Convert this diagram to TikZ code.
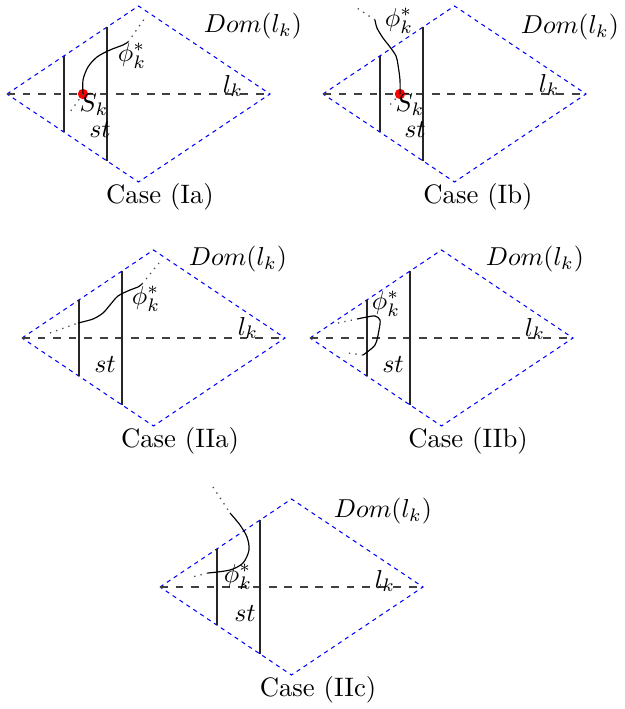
\documentclass[tikz,border=0pt]{standalone}
\usetikzlibrary{positioning}
\definecolor{DomBlue}{HTML}{0000FF}
\definecolor{SkRed}{HTML}{FF0000}

\tikzset{
  every node/.style={font=\fontsize{10.3}{12.5}\selectfont,inner sep=0.5pt},
  domline/.style={DomBlue,dash pattern=on 1.6pt off 1.6pt,line width=0.4pt},
  lkline/.style={black!75,dashed,line width=0.4pt},
  stline/.style={black!85,line width=0.4pt},
  phipath/.style={black,line width=0.45pt},
  phiext/.style={black!70,dotted,line width=0.5pt},
  skdot/.style={circle,fill=SkRed,inner sep=0pt,minimum size=4pt},
  pics/region/.style={code={
    \coordinate (-w) at (0,0);
    \coordinate (-e) at (263,0);
    \coordinate (-n) at (131.5,-88);
    \coordinate (-s) at (131.5,88);
    \draw[domline] (-w) -- (-n) -- (-e) -- (-s) -- cycle;
    \draw[lkline] (-w) -- (-e);
    \draw[stline] (57,-38.1) -- (57,38.1);
    \draw[stline] (100,-66.9) -- (100,66.9);
  }}
}

\begin{document}
\begin{tikzpicture}[x=0.01357cm,y=-0.01357cm]
\useasboundingbox (0,0) rectangle (625,709);

% Case (Ia)
\pic (ia) at (7,94) {region};
\node[skdot] (ia-sk) at (83,94) {};
\draw[phipath] plot[smooth] coordinates {(83,94) (83,80) (88,67) (97,57) (110,50) (123,45) (128,42)};
\coordinate (ia-up) at (145,18);
\coordinate (ia-dn) at (70,112);
\draw[phiext] (128,42) -- (ia-up);
\draw[phiext] (ia-sk.center) -- (ia-dn);
\node (ia-phi) at (132,56) {$\phi_k^*$};
\node (ia-sklab) at (94,105) {$S_k$};
\node (ia-st) at (100,130) {$st$};
\node (ia-lk) at (233,86) {$l_k$};
\node (ia-dom) at (253,26) {$Dom(l_k)$};
\node (ia-case) at (160,197) {Case (Ia)};

% Case (Ib)
\pic (ib) at (323,94) {region};
\node[skdot] (ib-sk) at (400,94) {};
\draw[phipath] plot[smooth] coordinates {(400,94) (400,80) (398,65) (396,56) (390,47) (383,38) (377,28) (375,20)};
\coordinate (ib-up) at (357,8);
\coordinate (ib-dn) at (387,108);
\draw[phiext] (375,20) -- (ib-up);
\draw[phiext] (ib-sk.center) -- (ib-dn);
\node (ib-phi) at (399,21) {$\phi_k^*$};
\node (ib-sklab) at (410,105) {$S_k$};
\node (ib-st) at (415,130) {$st$};
\node (ib-lk) at (549,85) {$l_k$};
\node (ib-dom) at (570,27) {$Dom(l_k)$};
\node (ib-case) at (478,197) {Case (Ib)};

% Case (IIa)
\pic (iia) at (22,338) {region};
\coordinate (iia-a) at (50,333);
\coordinate (iia-b) at (159,263);
\draw[phiext] (iia-a) -- (78,323);
\draw[phipath] plot[smooth] coordinates {(78,323) (93,319) (103,313) (110,305) (118,296) (130,290) (138,287) (142,284)};
\draw[phiext] (142,284) -- (iia-b);
\node (iia-phi) at (146,299) {$\phi_k^*$};
\node (iia-st) at (105,365) {$st$};
\node (iia-lk) at (248,328) {$l_k$};
\node (iia-dom) at (238,259) {$Dom(l_k)$};
\node (iia-case) at (180,441) {Case (IIa)};

% Case (IIb)
\pic (iib) at (310,338) {region};
\coordinate (iib-a) at (338,323);
\coordinate (iib-b) at (348,353);
\draw[phiext] (iib-a) -- (357,319);
\draw[phipath] plot[smooth] coordinates {(357,319) (367,317) (375,316) (380,320) (379,330) (375,345) (363,355)};
\draw[phiext] (363,355) -- (iib-b);
\node (iib-phi) at (386,304) {$\phi_k^*$};
\node (iib-st) at (393,365) {$st$};
\node (iib-lk) at (535,329) {$l_k$};
\node (iib-dom) at (535,259) {$Dom(l_k)$};
\node (iib-case) at (468,441) {Case (IIb)};

% Case (IIc)
\pic (iic) at (160,587) {region};
\coordinate (iic-a) at (213,487);
\coordinate (iic-b) at (192,577);
\draw[phiext] (iic-a) -- (230,513);
\draw[phipath] plot[smooth] coordinates {(230,513) (240,525) (247,537) (249,550) (243,563) (230,570) (208,573)};
\draw[phiext] (208,573) -- (iic-b);
\node (iic-phi) at (238,577) {$\phi_k^*$};
\node (iic-st) at (245,614) {$st$};
\node (iic-lk) at (385,581) {$l_k$};
\node (iic-dom) at (383,511) {$Dom(l_k)$};
\node (iic-case) at (318,690) {Case (IIc)};
\end{tikzpicture}
\end{document}
